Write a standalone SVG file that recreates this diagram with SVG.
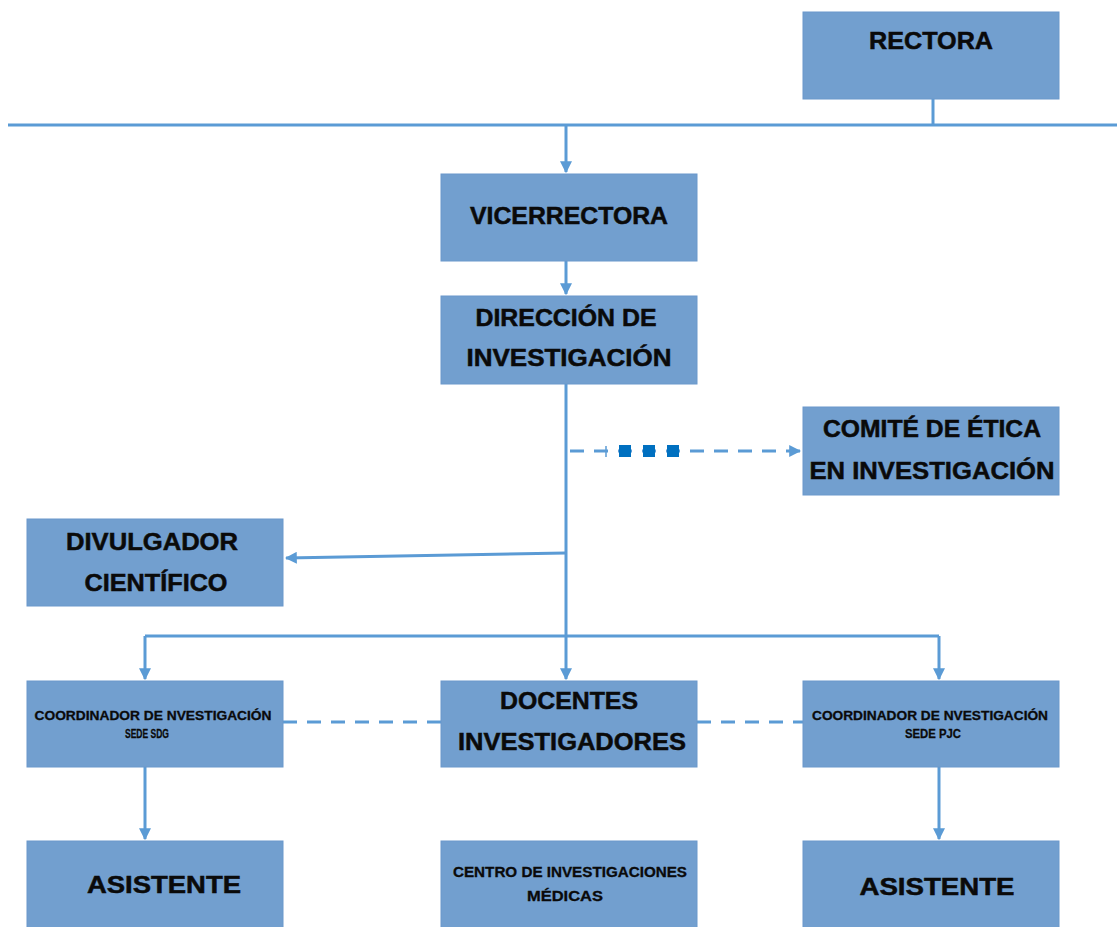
<svg xmlns="http://www.w3.org/2000/svg" width="1117" height="927" viewBox="0 0 1117 927">
<style>
.box{fill:#729fcf;stroke:#6b98cb;stroke-width:1}
.t{font-family:"Liberation Sans",Arial,sans-serif;font-weight:bold;fill:#0a0a0a;stroke:#0a0a0a;stroke-width:0.5;text-anchor:middle}
.big{font-size:24px}
.sm{font-size:12.5px;stroke-width:0.3}
.md{font-size:14px;stroke-width:0.3}
.ln{stroke:#5b9bd5;stroke-width:3;fill:none}
.dash{stroke:#5b9bd5;stroke-width:3;fill:none;stroke-dasharray:14 10}
.sq{fill:#0070c0}
</style>
<defs>
<marker id="ah" viewBox="0 0 10 10" refX="9" refY="5" markerWidth="4" markerHeight="4" orient="auto" markerUnits="strokeWidth">
<path d="M0,0 L10,5 L0,10 z" fill="#5b9bd5"/>
</marker>
</defs>
<rect width="1117" height="927" fill="#fff"/>
<g id="connectors">
<line class="ln" x1="8" y1="125" x2="1117" y2="125"/>
<line class="ln" x1="933" y1="99" x2="933" y2="125"/>
<line class="ln" x1="566" y1="125" x2="566" y2="172" marker-end="url(#ah)"/>
<line class="ln" x1="566" y1="261" x2="566" y2="294" marker-end="url(#ah)"/>
<line class="ln" x1="566" y1="384" x2="566" y2="679" marker-end="url(#ah)"/>
<line class="dash" x1="570" y1="451" x2="800" y2="451" marker-end="url(#ah)"/>
<line x1="606" y1="446" x2="606" y2="457" stroke="#5b9bd5" stroke-width="1.5"/>
<rect class="sq" x="619" y="445" width="12" height="12"/>
<rect class="sq" x="643" y="445" width="12" height="12"/>
<rect class="sq" x="667" y="445" width="12" height="12"/>
<line class="ln" x1="566" y1="553" x2="286" y2="558" marker-end="url(#ah)"/>
<line class="ln" x1="145" y1="636" x2="939" y2="636"/>
<line class="ln" x1="145" y1="636" x2="145" y2="679" marker-end="url(#ah)"/>
<line class="ln" x1="939" y1="636" x2="939" y2="679" marker-end="url(#ah)"/>
<line class="dash" x1="283" y1="722" x2="441" y2="722"/>
<line class="dash" x1="697" y1="722" x2="803" y2="722"/>
<line class="ln" x1="145" y1="767" x2="145" y2="839" marker-end="url(#ah)"/>
<line class="ln" x1="939" y1="767" x2="939" y2="839" marker-end="url(#ah)"/>
</g>
<g id="rectora"><rect class="box" x="803" y="12" width="256" height="87"/><text class="t big" x="931" y="49" textLength="124" lengthAdjust="spacingAndGlyphs">RECTORA</text></g>
<g id="vicerrectora"><rect class="box" x="441" y="174" width="256" height="87"/><text class="t big" x="569" y="224" textLength="198" lengthAdjust="spacingAndGlyphs">VICERRECTORA</text></g>
<g id="direccion"><rect class="box" x="441" y="296" width="256" height="88"/><text class="t big" x="566" y="326" textLength="181" lengthAdjust="spacingAndGlyphs">DIRECCIÓN DE</text><text class="t big" x="569" y="366" textLength="205" lengthAdjust="spacingAndGlyphs">INVESTIGACIÓN</text></g>
<g id="comite"><rect class="box" x="803" y="407" width="256" height="88"/><text class="t big" x="932" y="437" textLength="218" lengthAdjust="spacingAndGlyphs">COMITÉ DE ÉTICA</text><text class="t big" x="932" y="479" textLength="245" lengthAdjust="spacingAndGlyphs">EN INVESTIGACIÓN</text></g>
<g id="divulgador"><rect class="box" x="27" y="519" width="256" height="87"/><text class="t big" x="152" y="550" textLength="172" lengthAdjust="spacingAndGlyphs">DIVULGADOR</text><text class="t big" x="156" y="591" textLength="143" lengthAdjust="spacingAndGlyphs">CIENTÍFICO</text></g>
<g id="coord-sdg"><rect class="box" x="27" y="681" width="256" height="86"/><text class="t sm" x="153" y="720" textLength="237" lengthAdjust="spacingAndGlyphs">COORDINADOR DE NVESTIGACIÓN</text><text class="t sm" x="147" y="738" textLength="44" lengthAdjust="spacingAndGlyphs">SEDE SDG</text></g>
<g id="docentes"><rect class="box" x="441" y="681" width="256" height="86"/><text class="t big" x="569" y="709" textLength="138" lengthAdjust="spacingAndGlyphs">DOCENTES</text><text class="t big" x="572" y="750" textLength="228" lengthAdjust="spacingAndGlyphs">INVESTIGADORES</text></g>
<g id="coord-pjc"><rect class="box" x="803" y="681" width="256" height="86"/><text class="t sm" x="930" y="720" textLength="236" lengthAdjust="spacingAndGlyphs">COORDINADOR DE NVESTIGACIÓN</text><text class="t sm" x="933" y="738" textLength="56" lengthAdjust="spacingAndGlyphs">SEDE PJC</text></g>
<g id="asistente1"><rect class="box" x="27" y="841" width="256" height="90"/><text class="t big" x="164" y="893" textLength="154" lengthAdjust="spacingAndGlyphs">ASISTENTE</text></g>
<g id="centro"><rect class="box" x="441" y="841" width="256" height="90"/><text class="t md" x="570" y="877" textLength="234" lengthAdjust="spacingAndGlyphs">CENTRO DE INVESTIGACIONES</text><text class="t md" x="565" y="901" textLength="76" lengthAdjust="spacingAndGlyphs">MÉDICAS</text></g>
<g id="asistente2"><rect class="box" x="803" y="841" width="256" height="90"/><text class="t big" x="937" y="895" textLength="155" lengthAdjust="spacingAndGlyphs">ASISTENTE</text></g>
</svg>
